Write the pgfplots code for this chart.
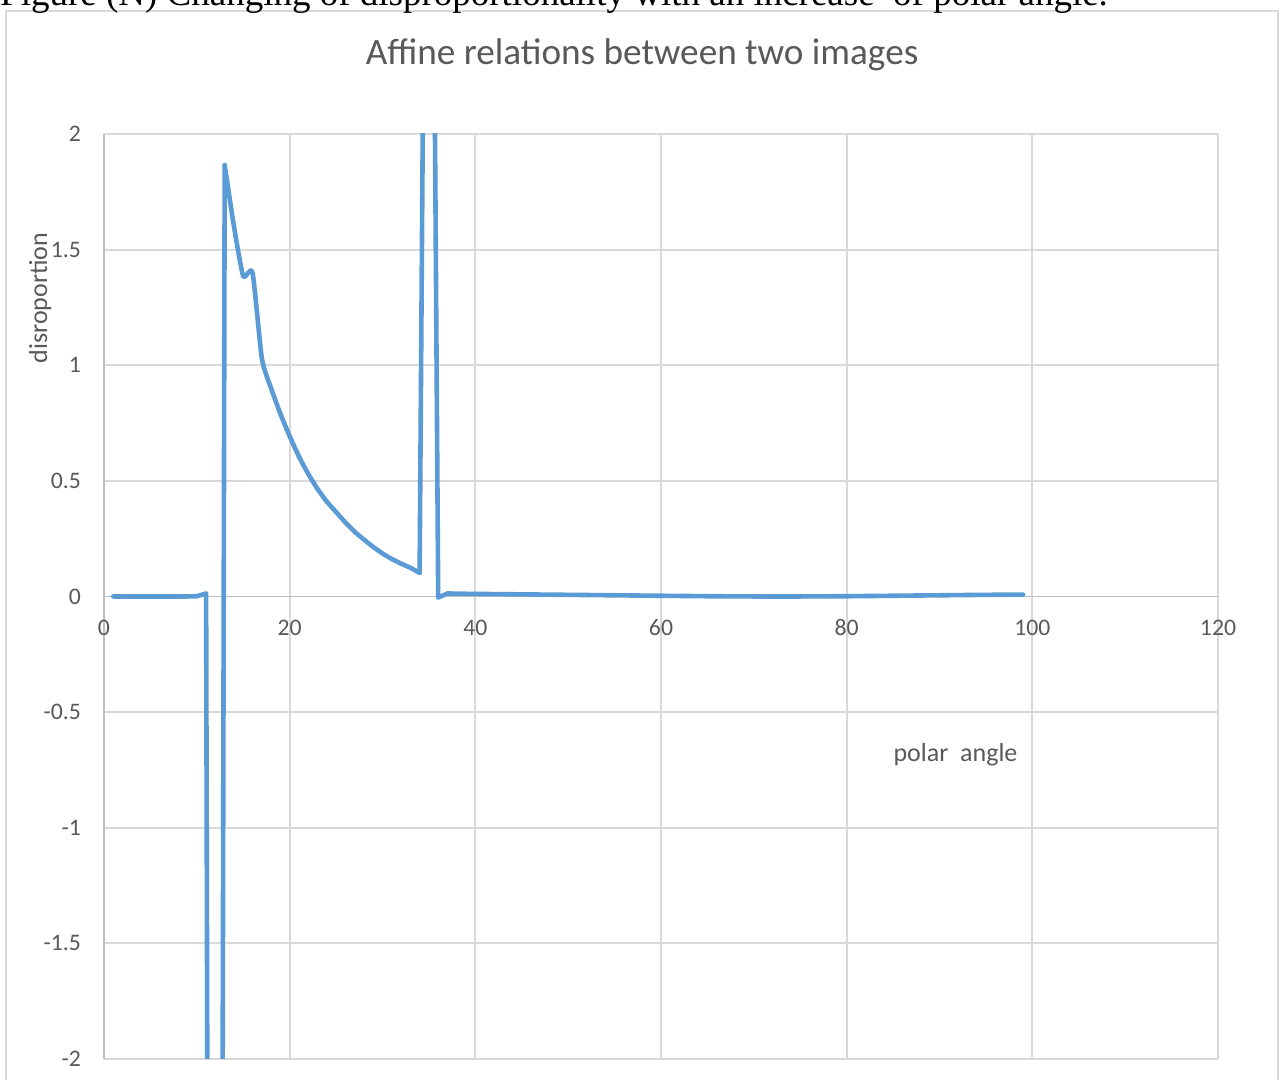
\documentclass[border=0pt]{standalone}
\usepackage{fontspec}
\setmainfont{Carlito}
\newfontfamily\capfont{Liberation Serif}
\usepackage{pgfplots}
\usepackage{pgfplotstable}
\pgfplotsset{compat=1.18}
\definecolor{txt}{HTML}{595959}
\definecolor{gridc}{HTML}{D9D9D9}
\definecolor{axl}{HTML}{BFBFBF}
\definecolor{ser}{HTML}{5B9BD5}
\pgfplotstableread{
x y
1 0
2 0
3 0
4 0
5 0
6 0
7 0
8 0
9 0
10 0.001
11 0.013
12 -16
13 1.865
}\partA
\pgfplotstableread{
x y
13 1.865
14 1.60
15 1.385
16 1.40
17 1.03
18 0.90
19 0.79
20 0.693
21 0.605
22 0.53
23 0.465
24 0.41
25 0.365
26 0.32
27 0.28
28 0.246
29 0.214
30 0.186
31 0.162
32 0.142
33 0.124
34 0.102
}\partB
\pgfplotstableread{
x y
34 0.102
35 5.8
36 -0.005
37 0.013
38 0.012
40 0.011
45 0.009
50 0.007
55 0.005
60 0.003
65 0.001
70 0.0
75 0.0
80 0.001
85 0.003
90 0.005
95 0.007
99 0.008
}\partC

\begin{document}
\begin{tikzpicture}
\useasboundingbox (0pt,0pt) rectangle (1282pt,1079pt);
\clip (0pt,0pt) rectangle (1282pt,1079pt);
\fill[white] (0pt,0pt) rectangle (1282pt,1079pt);
\draw[gridc, line width=1.8pt] (6pt,-20pt) rectangle (1278pt,1068pt);
\node[anchor=base west, inner sep=0pt, font=\capfont\fontsize{37}{40}\selectfont] at (0pt,1073pt) {Figure (N) Changing of disproportionality with an increase\ \ of polar angle.};
\begin{axis}[
  at={(104pt,20pt)}, anchor=south west,
  scale only axis, width=1114pt, height=925pt,
  xmin=0, xmax=120, ymin=-2, ymax=2,
  axis x line*=middle, axis y line*=left,
  hide obscured x ticks=false, hide obscured y ticks=false,
  grid=major,
  major grid style={gridc, line width=1.9pt},
  axis line style={axl, line width=1.9pt},
  major tick length=0pt,
  xtick={0,20,40,60,80,100,120},
  xticklabels={0,20,40,60,80,100,120},
  ytick={-2,-1.5,-1,-0.5,0,0.5,1,1.5,2},
  yticklabels={-2,-1.5,-1,-0.5,0,0.5,1,1.5,2},
  tick label style={font=\fontsize{23.7}{26}\selectfont, text=txt, inner sep=0pt},
  xticklabel style={anchor=north, yshift=-23pt},
  yticklabel style={anchor=east, xshift=-23pt},
  clip=true,
]
\addplot[ser, line width=4.6pt, line join=round, line cap=round] table[x=x,y=y] {\partA};
\addplot[ser, line width=4.6pt, line join=round, line cap=round, smooth, tension=0.35] table[x=x,y=y] {\partB};
\addplot[ser, line width=4.6pt, line join=round, line cap=round] table[x=x,y=y] {\partC};
\end{axis}
\node[anchor=base, inner sep=0pt, text=txt, font=\fontsize{37.2}{40}\selectfont] at (642pt,1014pt) {Affine relations between two images};
\node[anchor=base, rotate=90, inner sep=0pt, text=txt, font=\fontsize{26}{30}\selectfont] at (47pt,781pt) {disroportion};
\node[anchor=base, inner sep=0pt, text=txt, font=\fontsize{26}{30}\selectfont] at (955.5pt,317.5pt) {polar\ \ angle};
\end{tikzpicture}
\end{document}
